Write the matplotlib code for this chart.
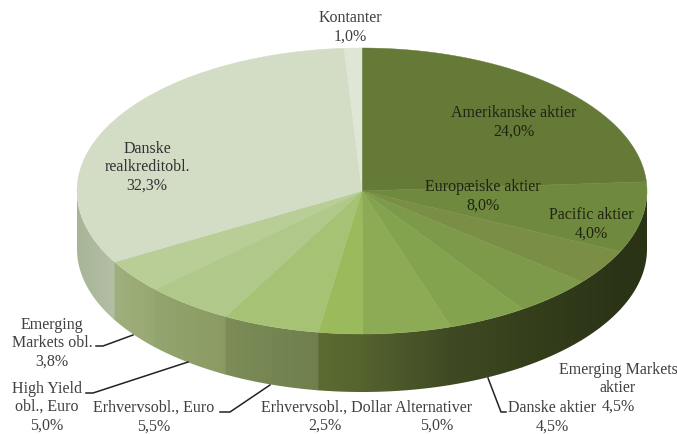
import matplotlib
matplotlib.use("Agg")
import matplotlib.pyplot as plt
from matplotlib.colors import to_rgb
from matplotlib.patches import Polygon
import numpy as np

# slices clockwise from 12 o'clock
values = [24.0, 8.0, 4.0, 4.5, 4.5, 5.0, 2.5, 5.5, 5.0, 3.8, 32.3, 1.0]
top_colors = ["#667a38", "#6f8a3e", "#7a8f45", "#7d9a4a", "#84a34f", "#8cab54", "#9aba5c", "#a6c274",
              "#b0c98a", "#b9cd96", "#d3dcc4", "#dfe6d5"]
# wall colours as seen going clockwise through each slice
side_colors = [("#2a3316", "#2a3316"), ("#2a3316", "#2a3316"), ("#2a3316", "#2f3818"), ("#2f3818", "#36401c"),
               ("#36401c", "#3f4a24"), ("#3f4a24", "#55632e"), ("#55632e", "#5c6c31"), ("#6f7f4d", "#7d8d58"),
               ("#8a9a62", "#94a670"), ("#96a872", "#a0af7e"), ("#b4bfa5", "#a7b596"), ("#dfe6d5", "#dfe6d5")]

cx, cy, rx, ry, depth = 362, 191, 285, 143, 58


def rim(t):
    return cx + rx * np.sin(t), cy - ry * np.cos(t)


fig = plt.figure(figsize=(6.77, 4.34), dpi=100)
ax = fig.add_axes([0, 0, 1, 1])

edges = np.radians(np.cumsum([0] + values) * 360 / sum(values))

# side wall, one clipped gradient per slice
for i in range(len(values)):
    a = max(edges[i], np.pi / 2)
    b = min(edges[i + 1], 3 * np.pi / 2)
    if a >= b:
        continue
    # small overlap at the far end so no white seam shows between walls
    ts = np.linspace(a, min(b + 0.006, 3 * np.pi / 2), 80)
    x, y = rim(ts)
    wall = Polygon(np.c_[np.r_[x, x[::-1]], np.r_[y, y[::-1] + depth]], closed=True,
                   facecolor="none", edgecolor="none")
    ax.add_patch(wall)
    c0, c1 = np.array(to_rgb(side_colors[i][0])), np.array(to_rgb(side_colors[i][1]))
    grad = np.linspace(c0, c1, 64)[None, :, :]
    x0, x1 = x.min() - 1, x.max() + 1
    # walls run right to left below the centre, so flip the gradient
    if x[0] > x[-1]:
        grad = grad[:, ::-1, :]
    # draw from the left end first so each wall sits on top of its left neighbour's overlap
    im = ax.imshow(grad, extent=[x0, x1, y.max() + depth + 1, y.min() - 1], aspect="auto",
                   interpolation="bilinear", zorder=1 + i * 0.01)
    im.set_clip_path(wall)

# top surface
for i in range(len(values)):
    ts = np.linspace(edges[i], edges[i + 1], 80)
    x, y = rim(ts)
    ax.fill(np.r_[cx, x], np.r_[cy, y], color=top_colors[i], lw=0.3, zorder=2)

ax.set_xlim(0, 677)
ax.set_ylim(434, 0)
ax.axis("off")

font = dict(family="Liberation Serif", fontsize=11.5, ha="center", va="center", linespacing=1.2, zorder=4)
dark = "#1f2412"
grey = "#404040"
ax.text(350, 27, "Kontanter\n1,0%", color=grey, **font)
ax.text(514, 122.5, "Amerikanske aktier\n24,0%", color=dark, **font)
ax.text(483, 196, "Europæiske aktier\n8,0%", color=dark, **font)
ax.text(591, 224.5, "Pacific aktier\n4,0%", color=dark, **font)
ax.text(147, 167, "Danske\nrealkreditobl.\n32,3%", color="#333333", **font)
ax.text(618, 388, "Emerging Markets\naktier\n4,5%", color=grey, **font)
ax.text(552, 417, "Danske aktier\n4,5%", color=grey, **font)
ax.text(367, 408, "Erhvervsobl., Dollar Alternativer", color=grey, **font)
ax.text(437, 426, "5,0%", color=grey, **font)
ax.text(325, 426, "2,5%", color=grey, **font)
ax.text(154, 417, "Erhvervsobl., Euro\n5,5%", color=grey, **font)
ax.text(47, 407, "High Yield\nobl., Euro\n5,0%", color=grey, **font)
ax.text(52, 343, "Emerging\nMarkets obl.\n3,8%", color=grey, **font)

# leader lines
ax.plot([96, 103, 133], [346, 346, 335], color="#222222", lw=1.1, zorder=3)
ax.plot([86, 93, 188], [393, 393, 362], color="#222222", lw=1.1, zorder=3)
ax.plot([220, 230, 270], [412, 412, 385], color="#222222", lw=1.1, zorder=3)
ax.plot([488, 501, 506], [378, 412, 412], color="#222222", lw=1.1, zorder=3)

fig.savefig("out.png", dpi=100)
